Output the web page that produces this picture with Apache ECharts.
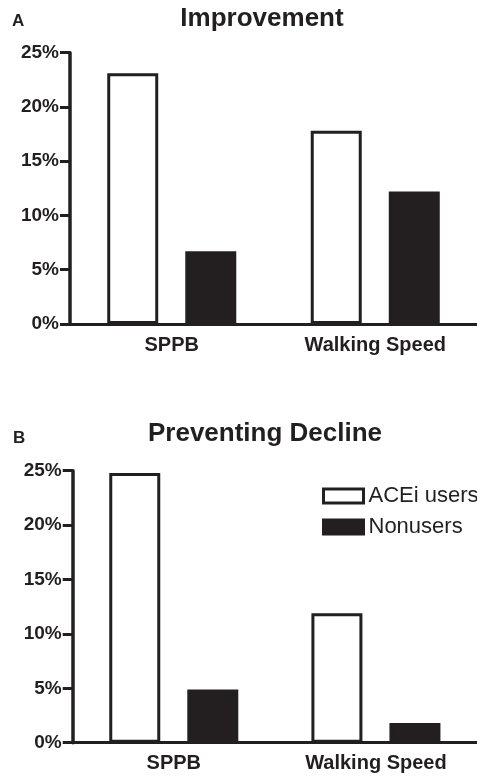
<!DOCTYPE html>
<html>
<head>
<meta charset="utf-8">
<script src="https://cdn.jsdelivr.net/npm/echarts@6/dist/echarts.min.js"></script>
<style>
  html, body { margin: 0; padding: 0; background: #fff; }
  #chart { width: 477px; height: 779px; }
</style>
</head>
<body>
<div id="chart"></div>
<script>
// data
const categories = ['SPPB', 'Walking Speed'];
const seriesNames = ['ACEi users', 'Nonusers'];
const improveUsers = [23.1, 17.8];
const improveNonusers = [6.7, 12.2];
const declineUsers = [24.8, 11.9];
const declineNonusers = [4.9, 1.8];

const ink = '#231f20';
const font = 'Liberation Sans, Arial, sans-serif';

function xAxisFor(gridIndex) {
  return {
    type: 'category',
    gridIndex: gridIndex,
    data: categories,
    axisLine: { lineStyle: { color: ink, width: 3 } },
    axisTick: { alignWithLabel: true, length: 8, lineStyle: { color: ink, width: 3 } },
    axisLabel: { color: ink, fontFamily: font, fontWeight: 'bold', fontSize: 20, margin: 11 }
  };
}

function yAxisFor(gridIndex) {
  return {
    type: 'value',
    gridIndex: gridIndex,
    min: 0,
    max: 25,
    interval: 5,
    splitLine: { show: false },
    axisLine: { show: true, lineStyle: { color: ink, width: 3.5 } },
    axisTick: { show: true, length: 10, lineStyle: { color: ink, width: 3 } },
    axisLabel: { color: ink, fontFamily: font, fontWeight: 'bold', fontSize: 19, margin: 11, formatter: '{value}%' }
  };
}

// white bars with outline, black bars
const usersStyle = { color: '#ffffff', borderColor: ink, borderWidth: 3 };
const nonStyle = { color: ink, borderColor: ink, borderWidth: 3 };

function barSeries(name, values, idx, style) {
  return {
    name: name,
    type: 'bar',
    xAxisIndex: idx,
    yAxisIndex: idx,
    data: values,
    barWidth: 51,
    barGap: '53%',
    itemStyle: style,
    emphasis: { disabled: true }
  };
}

let myChart = echarts.init(document.getElementById('chart'));
let option = {
  animation: false,
  backgroundColor: '#fff',
  graphic: [
    { type: 'text', left: 12, top: 13, style: { text: 'A', font: 'bold 17px ' + font, fill: ink } },
    { type: 'text', x: 262, y: 18.5, style: { text: 'Improvement', font: 'bold 26px ' + font, fill: ink, textAlign: 'center', textVerticalAlign: 'middle' } },
    { type: 'text', left: 13, top: 430, style: { text: 'B', font: 'bold 17px ' + font, fill: ink } },
    { type: 'text', x: 265, y: 434, style: { text: 'Preventing Decline', font: 'bold 26px ' + font, fill: ink, textAlign: 'center', textVerticalAlign: 'middle' } }
  ],
  legend: {
    data: seriesNames,
    orient: 'vertical',
    left: 322,
    top: 485,
    padding: 0,
    itemWidth: 40,
    itemHeight: 14,
    itemGap: 9,
    icon: 'rect',
    selectedMode: false,
    itemStyle: { borderWidth: 3, borderColor: ink },
    textStyle: { color: ink, fontFamily: font, fontSize: 22 }
  },
  grid: [
    { left: 70, top: 52.7, width: 407, height: 271.3 },
    { left: 72.7, top: 470.7, width: 408, height: 272 }
  ],
  xAxis: [xAxisFor(0), xAxisFor(1)],
  yAxis: [yAxisFor(0), yAxisFor(1)],
  series: [
    barSeries(seriesNames[0], improveUsers, 0, usersStyle),
    barSeries(seriesNames[1], improveNonusers, 0, nonStyle),
    barSeries(seriesNames[0], declineUsers, 1, usersStyle),
    barSeries(seriesNames[1], declineNonusers, 1, nonStyle)
  ]
};
myChart.setOption(option);
</script>
</body>
</html>
